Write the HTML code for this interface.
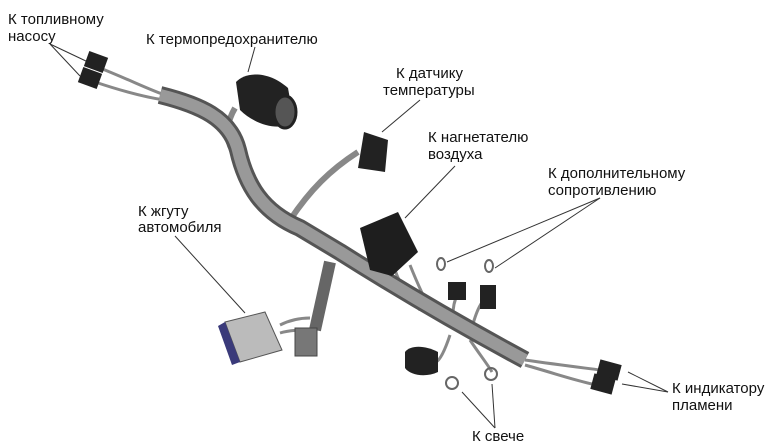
<!DOCTYPE html>
<html><head><meta charset="utf-8"><style>
html,body{margin:0;padding:0;background:#fff;}
svg{display:block}
text{font-family:"Liberation Sans",sans-serif;font-size:15px;fill:#111}
</style></head><body>
<svg width="773" height="448" viewBox="0 0 773 448" xmlns="http://www.w3.org/2000/svg">
<!-- leader lines -->
<g stroke="#333" stroke-width="1" fill="none">
<line x1="50" y1="44" x2="88" y2="62"/><line x1="50" y1="44" x2="80" y2="76"/>
<line x1="255" y1="47" x2="248" y2="72"/>
<line x1="420" y1="100" x2="382" y2="132"/>
<line x1="455" y1="166" x2="405" y2="218"/>
<line x1="600" y1="198" x2="447" y2="262"/><line x1="600" y1="198" x2="495" y2="268"/>
<line x1="175" y1="236" x2="245" y2="313"/>
<line x1="668" y1="392" x2="628" y2="372"/><line x1="668" y1="392" x2="622" y2="384"/>
<line x1="495" y1="428" x2="462" y2="392"/><line x1="495" y1="428" x2="492" y2="384"/>
</g>
<!-- wires -->
<g stroke="#888" stroke-width="3" fill="none">
<path d="M100,68 C130,80 150,90 165,95"/><path d="M95,82 C125,92 150,98 165,100"/>
<path d="M235,108 C228,120 224,135 232,150" stroke-width="6"/>
<path d="M290,220 C310,190 330,170 358,152" stroke-width="6"/>
<path d="M525,360 C560,365 585,368 600,370"/><path d="M525,365 C560,375 580,382 597,385"/>
<path d="M395,270 C400,285 410,300 420,310"/><path d="M410,265 C418,285 425,300 432,312"/>
<path d="M455,330 C450,310 455,295 462,290"/><path d="M470,335 C475,315 480,300 490,295"/>
<path d="M450,335 C445,350 440,360 436,362"/><path d="M470,340 C480,355 488,365 492,372"/>
<path d="M280,325 C290,320 300,318 310,318"/><path d="M280,333 C290,330 300,330 310,330"/>
</g>
<!-- main tube -->
<path d="M160,95 C200,105 230,118 238,150 C246,185 262,212 300,228 L340,252 C400,290 460,325 525,360" stroke="#555" stroke-width="18" fill="none"/>
<path d="M160,95 C200,105 230,118 238,150 C246,185 262,212 300,228 L340,252 C400,290 460,325 525,360" stroke="#999" stroke-width="12" fill="none"/>
<!-- branch down to car harness -->
<path d="M330,262 L315,330" stroke="#666" stroke-width="12" fill="none"/>
<rect x="295" y="328" width="22" height="28" fill="#777" stroke="#444"/>
<!-- car harness connector -->
<polygon points="225,322 265,312 282,350 240,362" fill="#bbb" stroke="#555"/>
<polygon points="225,322 240,362 232,365 218,326" fill="#3a3a7a"/>
<!-- fuel pump connectors -->
<g fill="#222"><rect x="86" y="54" width="20" height="16" transform="rotate(20 96 62)"/>
<rect x="80" y="70" width="20" height="16" transform="rotate(20 90 78)"/></g>
<!-- thermofuse -->
<path d="M236,82 C245,72 268,70 288,88 L294,122 C280,132 255,125 240,110 Z" fill="#222"/>
<ellipse cx="285" cy="112" rx="11" ry="16" fill="#555" stroke="#222" stroke-width="3"/>
<!-- temperature sensor -->
<polygon points="364,132 388,140 385,172 358,168" fill="#222"/>
<!-- blower connector -->
<polygon points="360,228 398,212 418,252 392,276 370,270" fill="#1e1e1e"/>
<!-- resistor terminals -->
<g fill="#222"><rect x="448" y="282" width="18" height="18"/><rect x="480" y="285" width="16" height="24"/>
<path d="M405,352 C410,345 425,345 438,352 L438,372 C425,378 410,375 405,368 Z"/></g>
<g fill="none" stroke="#666" stroke-width="2">
<ellipse cx="441" cy="264" rx="4" ry="6"/><ellipse cx="489" cy="266" rx="4" ry="6"/>
<circle cx="452" cy="383" r="6"/><circle cx="491" cy="374" r="6"/></g>
<!-- flame indicator connectors -->
<g fill="#222"><rect x="598" y="362" width="22" height="16" transform="rotate(15 609 370)"/>
<rect x="592" y="376" width="22" height="16" transform="rotate(15 603 384)"/></g>
<!-- labels -->
<text x="8" y="24">К топливному</text><text x="8" y="41">насосу</text>
<text x="146" y="44">К термопредохранителю</text>
<text x="396" y="78">К датчику</text><text x="383" y="95">температуры</text>
<text x="428" y="142">К нагнетателю</text><text x="428" y="159">воздуха</text>
<text x="548" y="178">К дополнительному</text><text x="548" y="195">сопротивлению</text>
<text x="138" y="216">К жгуту</text><text x="138" y="232">автомобиля</text>
<text x="672" y="393">К индикатору</text><text x="672" y="410">пламени</text>
<text x="472" y="441">К свече</text>
</svg>
</body></html>
